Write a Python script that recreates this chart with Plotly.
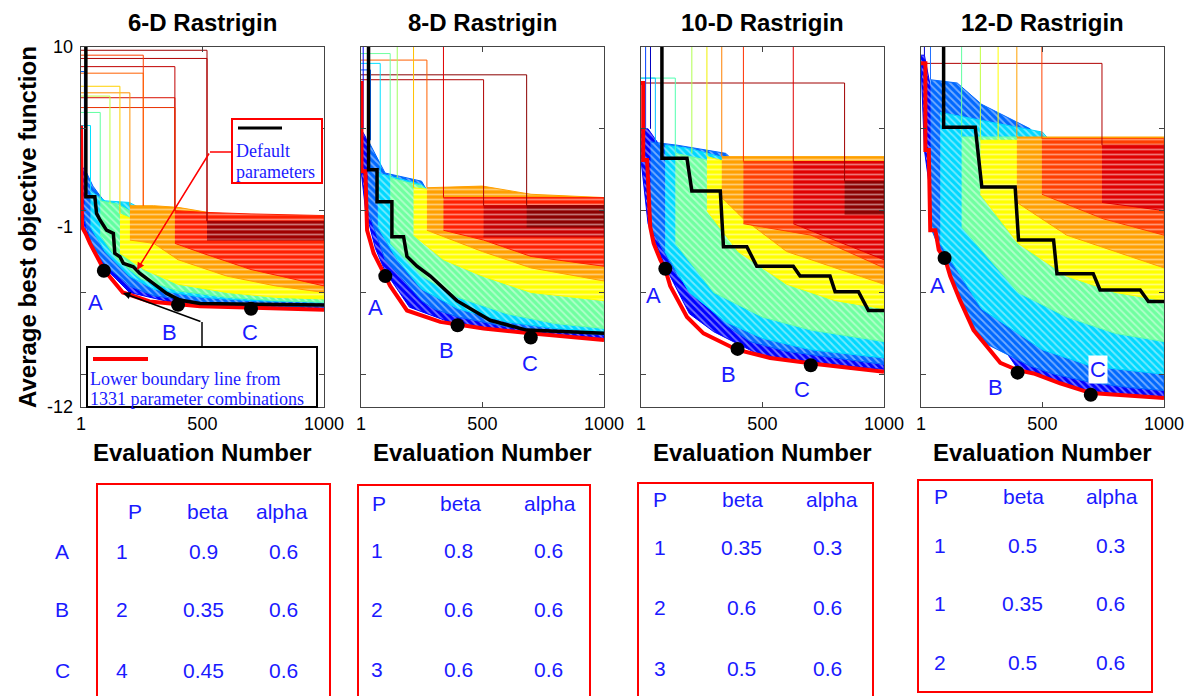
import plotly.graph_objects as go

# ---------------- data ----------------
TITLES = ["6-D Rastrigin", "8-D Rastrigin", "10-D Rastrigin", "12-D Rastrigin"]
X_TICKS = [1, 500, 1000]
Y_TICKS = [-10, -5, 0, 5, 10]
Y_LABELS = ["10", "-1", "-12"]
Y_LABEL_VALUES = [10, -1, -12]

# lower boundary (red) lines
RED6_X = [1, 1, 5, 20, 38, 95, 173, 283, 490, 1000]
RED6_Y = [5.2, 0.6, -1.0, -1.4, -2.0, -3.6, -5.0, -5.55, -5.85, -6.05]
RED8_X = [1, 3, 3, 19, 26, 53, 94, 121, 190, 327, 505, 696, 1000]
RED8_Y = [7.8, 7.8, 2.4, 2.4, -1.2, -2.6, -3.8, -4.6, -6.1, -6.8, -7.2, -7.5, -7.9]
RED10_X = [1, 10, 10, 26, 39, 53, 80, 101, 121, 190, 258, 395, 532, 737, 1000]
RED10_Y = [7.8, 7.8, 3.1, 3.1, -1.0, -2.0, -3.0, -3.6, -4.6, -6.5, -7.5, -8.5, -9.0, -9.4, -9.85]
RED12_X = [1, 19, 19, 33, 39, 60, 74, 101, 121, 162, 217, 327, 398, 464, 573, 699, 1000]
RED12_Y = [9.0, 9.0, 3.7, 3.7, -1.2, -1.2, -2.4, -3.0, -4.0, -5.5, -7.3, -9.3, -9.75, -9.95, -10.55, -11.15, -11.45]

# default parameters (black) lines
BLACK6_X = [21, 21, 58, 65, 79, 106, 134, 140, 161, 175, 216, 243, 298, 353, 407, 490, 1000]
BLACK6_Y = [10.5, 0.85, 0.85, -0.17, -0.57, -1.19, -1.39, -2.61, -2.82, -3.22, -3.43, -3.84, -4.45, -5.06, -5.46, -5.67, -5.77]
BLACK8_X = [32, 32, 67, 67, 128, 128, 176, 190, 231, 286, 395, 532, 682, 1000]
BLACK8_Y = [10.5, 2.5, 2.5, 0.55, 0.55, -1.6, -1.6, -2.8, -3.4, -4.0, -5.5, -6.7, -7.3, -7.5]
BLACK10_X = [87, 87, 190, 210, 327, 340, 436, 477, 627, 655, 778, 799, 895, 936, 1000]
BLACK10_Y = [10.5, 3.2, 3.2, 1.2, 1.2, -2.2, -2.2, -3.4, -3.4, -4.0, -4.0, -4.95, -4.95, -6.1, -6.1]
BLACK12_X = [94, 94, 224, 251, 388, 402, 546, 560, 709, 737, 902, 936, 1000]
BLACK12_Y = [10.5, 5.1, 5.1, 1.45, 1.45, -1.8, -1.8, -3.85, -3.85, -4.85, -4.85, -5.55, -5.55]

# points A, B, C
PTS6_X, PTS6_Y = [95, 400, 700], [-3.67, -5.75, -6.0]
PTS8_X, PTS8_Y = [101, 398, 699], [-4.0, -7.0, -7.75]
PTS10_X, PTS10_Y = [101, 398, 699], [-3.55, -8.45, -9.45]
PTS12_X, PTS12_Y = [98, 398, 699], [-2.9, -9.9, -11.25]

# colored envelopes of the 1331 parameter-combination curves: (colour, x, upper, lower)
BANDS6 = [
    ("#0000ff", [1, 20, 50, 100, 200, 400, 700, 1000], [2.7, 2.5, 0.8, -1.2, -3.3, -4.9, -5.4, -5.5], [0.5, -1.3, -2.5, -3.5, -5.0, -5.7, -5.95, -6.0]),
    ("#0068ff", [15, 50, 100, 200, 300, 500, 700, 1000], [2.6, 1.5, 0.5, 0.3, -1.0, -3.0, -3.7, -4.0], [-0.5, -2.3, -3.3, -4.6, -5.2, -5.6, -5.8, -5.9]),
    ("#00d8ff", [40, 100, 200, 300, 500, 700, 1000], [1.2, 0.6, 0.5, -0.3, -2.2, -3.2, -3.6], [-1.0, -2.5, -4.0, -4.8, -5.3, -5.5, -5.6]),
    ("#60ffa0", [80, 150, 250, 400, 600, 800, 1000], [0.6, 0.4, -0.4, -1.5, -2.8, -3.3, -3.5], [-1.5, -3.0, -4.2, -4.9, -5.3, -5.5, -5.6]),
    ("#ffff00", [161, 260, 400, 600, 800, 1000], [-0.2, -0.8, -1.5, -2.5, -3.2, -3.5], [-2.6, -3.6, -4.5, -5.0, -5.3, -5.4]),
    ("#ffa000", [202, 300, 400, 600, 800, 1000], [0.3, 0.3, 0.2, -0.3, -0.5, -0.5], [-1.8, -2.0, -3.0, -4.0, -4.6, -5.0]),
    ("#ff2000", [387, 500, 700, 1000], [0.0, -0.1, -0.2, -0.3], [-2.0, -2.6, -3.6, -4.6]),
    ("#a00000", [519, 1000], [-0.65, -0.65], [-1.8, -1.8]),
]
BANDS8 = [
    ("#0000ff", [1, 20, 60, 100, 200, 400, 700, 1000], [5.0, 4.5, 2.5, -0.5, -3.0, -5.0, -6.5, -7.0], [2.5, 0.0, -2.3, -3.7, -5.9, -7.0, -7.45, -7.8]),
    ("#0068ff", [30, 100, 250, 300, 400, 600, 800, 1000], [4.3, 2.3, 1.8, 0.5, -1.0, -3.0, -4.0, -4.5], [0.0, -3.0, -5.5, -6.0, -6.5, -7.1, -7.4, -7.6]),
    ("#00d8ff", [70, 150, 250, 400, 600, 800, 1000], [2.3, 2.0, 1.6, -0.5, -2.5, -3.5, -4.0], [-1.0, -3.0, -4.8, -6.0, -6.8, -7.2, -7.4]),
    ("#70ffa0", [121, 250, 400, 600, 800, 1000], [2.0, 1.5, 0.0, -1.8, -3.0, -3.5], [-2.0, -4.0, -5.3, -6.3, -6.9, -7.2]),
    ("#ffff00", [217, 340, 500, 700, 1000], [1.4, 1.2, 0.0, -1.5, -2.5], [-1.5, -3.0, -4.0, -5.0, -5.5]),
    ("#ffa000", [272, 500, 700, 1000], [1.4, 1.5, 1.0, 0.8], [-1.2, -2.5, -3.5, -4.3]),
    ("#ff2000", [340, 505, 700, 1000], [0.8, 0.8, 0.8, 0.8], [-1.2, -1.8, -2.8, -3.4]),
    ("#c80000", [505, 1000], [0.3, 0.3], [-1.6, -1.6]),
    ("#8b0000", [682, 1000], [0.3, 0.3], [-1.0, -1.0]),
]
BANDS10 = [
    ("#0000ff", [1, 30, 100, 200, 300, 500, 700, 1000], [5.0, 5.0, 3.5, 1.0, -2.0, -4.0, -5.5, -6.3], [3.1, -0.8, -3.4, -6.3, -7.4, -8.9, -9.3, -9.7]),
    ("#0068ff", [40, 150, 350, 450, 600, 800, 1000], [4.2, 4.0, 3.5, 2.0, 0.0, -2.0, -3.0], [-1.0, -4.0, -7.0, -8.0, -8.6, -9.0, -9.4]),
    ("#00d8ff", [100, 200, 350, 500, 700, 1000], [4.0, 3.8, 3.2, 1.5, -1.0, -2.5], [-2.5, -5.0, -6.8, -7.8, -8.5, -9.0]),
    ("#70ffa0", [142, 300, 500, 700, 1000], [3.5, 3.0, 1.0, -1.0, -2.5], [-2.0, -5.0, -6.5, -7.3, -8.0]),
    ("#ffff00", [272, 400, 600, 800, 1000], [3.3, 2.8, 1.0, -1.0, -2.0], [0.0, -2.5, -4.5, -5.5, -6.0]),
    ("#ffa000", [333, 422, 600, 1000], [3.3, 3.3, 3.3, 3.3], [0.8, -0.5, -2.5, -4.5]),
    ("#ff4000", [422, 700, 1000], [3.0, 3.0, 3.0], [-0.8, -1.5, -3.5]),
    ("#e00000", [627, 1000], [3.0, 3.0], [-0.8, -3.0]),
    ("#8b0000", [838, 1000], [1.8, 1.8], [-0.2, -0.2]),
]
BANDS12 = [
    ("#0000ff", [1, 15, 60, 100, 200, 400, 700, 1000], [9.5, 9.5, 6.0, 3.0, -1.0, -4.5, -6.5, -7.5], [9.0, 3.7, -1.2, -3.0, -5.4, -9.7, -11.1, -11.4]),
    ("#0068ff", [40, 150, 250, 450, 550, 700, 850, 1000], [8.0, 7.8, 6.5, 5.0, 3.0, 0.0, -2.0, -3.0], [-1.0, -5.0, -8.0, -9.5, -10.0, -10.5, -10.8, -11.0]),
    ("#00d8ff", [80, 250, 500, 700, 1000], [6.0, 5.5, 4.8, 1.5, -1.0], [-2.0, -6.0, -8.5, -9.5, -10.0]),
    ("#70ffa0", [168, 400, 600, 800, 1000], [4.5, 4.5, 2.0, 0.0, -1.5], [-1.0, -5.0, -6.5, -7.5, -8.0]),
    ("#ffff00", [245, 400, 600, 800, 1000], [4.3, 4.3, 3.5, 1.5, 0.5], [1.0, -2.0, -4.0, -5.0, -5.5]),
    ("#ffa000", [395, 600, 1000], [4.5, 4.5, 4.5], [0.5, -1.5, -3.5]),
    ("#ff4000", [498, 750, 1000], [4.4, 4.4, 4.4], [1.0, -0.5, -1.5]),
    ("#e00000", [745, 1000], [4.0, 4.0], [0.5, 0.0]),
]

# first-improvement "entry" lines: (colour, starting value, first evaluation, value reached)
ENTRIES6 = [("#a00000", 9.8, 519, -0.65), ("#b00000", 9.3, 519, -0.65), ("#c00000", 8.8, 387, 0.0),
            ("#d81000", 6.9, 387, 0.0), ("#e83000", 6.3, 387, 0.0), ("#ff4000", 9.5, 257, 0.3),
            ("#ff6000", 8.4, 257, 0.3), ("#ff9000", 7.2, 202, 0.3), ("#ffd000", 7.6, 161, -0.2),
            ("#c0ff40", 7.0, 120, 0.4), ("#60ffa0", 6.0, 80, 0.6), ("#00e0ff", 5.2, 40, 1.2),
            ("#0068ff", 8.5, 15, 2.6)]
ENTRIES8 = [("#8b0000", 8.3, 682, 0.3), ("#b00000", 8.0, 505, 0.3), ("#e00000", 10.5, 340, 0.8),
            ("#ff6000", 9.2, 272, 1.4), ("#ffc000", 10.5, 217, 1.4), ("#a0ff60", 10.5, 150, 2.0),
            ("#70ffa0", 9.6, 121, 2.0), ("#00e0ff", 9.0, 80, 2.3), ("#0068ff", 8.6, 40, 4.3),
            ("#0000ff", 10.5, 10, 5.0)]
ENTRIES10 = [("#a00000", 7.8, 838, 1.8), ("#e00000", 10.5, 627, 3.0), ("#ff3000", 10.5, 422, 3.0),
             ("#ff8000", 10.5, 333, 3.3), ("#f0f000", 10.5, 272, 3.3), ("#b0ff50", 10.5, 210, 3.5),
             ("#50ffb0", 8.1, 142, 3.5), ("#00c0ff", 8.1, 60, 4.2), ("#0040ff", 10.5, 20, 5.0),
             ("#0000c0", 10.5, 40, 5.0)]
ENTRIES12 = [("#b00000", 9.0, 745, 4.0), ("#ff4000", 10.5, 498, 4.4), ("#ffa000", 10.5, 395, 4.5),
             ("#ffff00", 10.5, 318, 4.3), ("#c0ff40", 10.5, 245, 4.3), ("#60ffa0", 10.5, 168, 4.5),
             ("#2070ff", 10.5, 40, 8.0), ("#0000d0", 10.5, 15, 9.5)]

# parameter tables
ROW_NAMES = ["A", "B", "C"]
TABLE_HEAD = ["P", "beta", "alpha"]
TABLE6 = [["1", "0.9", "0.6"], ["2", "0.35", "0.6"], ["4", "0.45", "0.6"]]
TABLE8 = [["1", "0.8", "0.6"], ["2", "0.6", "0.6"], ["3", "0.6", "0.6"]]
TABLE10 = [["1", "0.35", "0.3"], ["2", "0.6", "0.6"], ["3", "0.5", "0.6"]]
TABLE12 = [["1", "0.5", "0.3"], ["1", "0.35", "0.6"], ["2", "0.5", "0.6"]]

# ---------------- layout helpers ----------------
W, H = 1194, 696
def px(x): return x / W
def py(y): return 1 - y / H

PLOT_L = [81, 361, 641, 921]
PLOT_R = [324, 604, 884, 1164]
PLOT_T, PLOT_B = 47, 407
BLUE = "#1a1aff"
SANS = "Liberation Sans, Arial, sans-serif"
SERIF = "Liberation Serif, Times New Roman, serif"
WARM = {"#ffff00", "#ffa000", "#ff2000", "#ff4000", "#a00000", "#c80000", "#8b0000", "#e00000"}

REDS = [(RED6_X, RED6_Y), (RED8_X, RED8_Y), (RED10_X, RED10_Y), (RED12_X, RED12_Y)]
BLACKS = [(BLACK6_X, BLACK6_Y), (BLACK8_X, BLACK8_Y), (BLACK10_X, BLACK10_Y), (BLACK12_X, BLACK12_Y)]
PTS = [(PTS6_X, PTS6_Y), (PTS8_X, PTS8_Y), (PTS10_X, PTS10_Y), (PTS12_X, PTS12_Y)]
BANDS = [BANDS6, BANDS8, BANDS10, BANDS12]
ENTRIES = [ENTRIES6, ENTRIES8, ENTRIES10, ENTRIES12]
TABLES = [TABLE6, TABLE8, TABLE10, TABLE12]

fig = go.Figure()

for i in range(4):
    xr = "x" if i == 0 else f"x{i+1}"
    yr = "y" if i == 0 else f"y{i+1}"
    for col, xs, up, lo in BANDS[i]:
        shape = "-" if col in WARM else "\\"
        fig.add_trace(go.Scatter(x=xs + xs[::-1], y=up + lo[::-1], fill="toself", mode="lines",
                                 fillcolor=col,
                                 fillpattern=dict(shape=shape, fgcolor="white", fgopacity=0.45,
                                                  size=5, solidity=0.35, fillmode="overlay"),
                                 line=dict(color=col, width=1),
                                 xaxis=xr, yaxis=yr, hoverinfo="skip"))
    for col, vtop, xs, vend in ENTRIES[i]:
        fig.add_trace(go.Scatter(x=[1, xs, xs], y=[vtop, vtop, vend], mode="lines",
                                 line=dict(color=col, width=1), xaxis=xr, yaxis=yr, hoverinfo="skip"))
    rx, ry = REDS[i]
    fig.add_trace(go.Scatter(x=rx, y=ry, mode="lines", line=dict(color="#ff0000", width=4),
                             xaxis=xr, yaxis=yr, hoverinfo="skip"))
    bx, by = BLACKS[i]
    fig.add_trace(go.Scatter(x=bx, y=by, mode="lines", line=dict(color="#000000", width=3.5),
                             xaxis=xr, yaxis=yr, hoverinfo="skip"))
    qx, qy = PTS[i]
    fig.add_trace(go.Scatter(x=qx, y=qy, mode="markers", marker=dict(color="black", size=14),
                             xaxis=xr, yaxis=yr, hoverinfo="skip"))

layout = dict(width=W, height=H, autosize=False, margin=dict(l=0, r=0, t=0, b=0, pad=0), showlegend=False,
              paper_bgcolor="white", plot_bgcolor="white", template="none")
for i in range(4):
    sx = "xaxis" if i == 0 else f"xaxis{i+1}"
    sy = "yaxis" if i == 0 else f"yaxis{i+1}"
    layout[sx] = dict(domain=[px(PLOT_L[i]), px(PLOT_R[i])], range=[1, 1000], tickvals=X_TICKS,
                      ticktext=[str(t) for t in X_TICKS], ticks="inside", ticklen=5, mirror="ticks",
                      showline=True, linecolor="#444", linewidth=1, showgrid=False, zeroline=False,
                      automargin=False, anchor="y" if i == 0 else f"y{i+1}",
                      tickfont=dict(family=SANS, size=18, color="black"))
    layout[sy] = dict(domain=[py(PLOT_B), py(PLOT_T)], range=[-12, 10], tickvals=Y_TICKS,
                      ticks="inside", ticklen=5, mirror="ticks", showticklabels=False,
                      showline=True, linecolor="#444", linewidth=1, showgrid=False, zeroline=False,
                      automargin=False, anchor="x" if i == 0 else f"x{i+1}")
fig.update_layout(**layout)

ann = []
shapes = []

def text_at(x, y, text, font, xanchor="center", **kw):
    d = dict(x=px(x), y=py(y), xref="paper", yref="paper", text=text, showarrow=False,
             xanchor=xanchor, yanchor="middle", font=font)
    d.update(kw)
    ann.append(d)

for i in range(4):
    cx = (PLOT_L[i] + PLOT_R[i]) / 2
    text_at(cx, 22, f"<b>{TITLES[i]}</b>", dict(family=SANS, size=24, color="black"))
    text_at(cx, 452, "<b>Evaluation Number</b>", dict(family=SANS, size=24, color="black"))

# y tick labels (panel 1)
for lab, val in zip(Y_LABELS, Y_LABEL_VALUES):
    ann.append(dict(x=px(PLOT_L[0] - 6), xref="paper", xanchor="right", y=val, yref="y", yanchor="middle",
                    text=lab, showarrow=False, font=dict(family=SANS, size=18, color="black")))
text_at(28, 227, "<b>Average best objective function</b>", dict(family=SANS, size=24, color="black"),
        textangle=-90)

# A/B/C labels
LAB_POS = [[(95, 302), (170, 332), (250, 332)],
           [(375, 307), (446, 350), (530, 363)],
           [(653, 295), (728, 374), (802, 389)],
           [(937, 285), (995, 387), (1098, 369)]]
for i in range(4):
    for j, (lx, ly) in enumerate(LAB_POS[i]):
        extra = {"bgcolor": "white"} if (i == 3 and j == 2) else {}
        text_at(lx, ly, ROW_NAMES[j], dict(family=SANS, size=22, color=BLUE), **extra)

# panel-1 callouts
shapes.append(dict(type="rect", xref="paper", yref="paper", x0=px(232), x1=px(322), y0=py(119), y1=py(183),
                   line=dict(color="red", width=2), fillcolor="white"))
shapes.append(dict(type="line", xref="paper", yref="paper", x0=px(238), x1=px(282), y0=py(128), y1=py(128),
                   line=dict(color="black", width=3)))
text_at(234, 151, "Default", dict(family=SERIF, size=18, color=BLUE), xanchor="left")
text_at(234, 172, "parameters", dict(family=SERIF, size=18, color=BLUE), xanchor="left")
shapes.append(dict(type="line", xref="paper", yref="paper", x0=px(210), x1=px(232), y0=py(152), y1=py(152),
                   line=dict(color="red", width=1.5)))
ann.append(dict(x=px(137), y=py(270), ax=73, ay=-118, text="", showarrow=True, arrowhead=2, arrowsize=1,
                arrowwidth=1.5, arrowcolor="red", xref="paper", yref="paper"))

shapes.append(dict(type="rect", xref="paper", yref="paper", x0=px(87), x1=px(317), y0=py(407), y1=py(347),
                   line=dict(color="black", width=2), fillcolor="white"))
shapes.append(dict(type="line", xref="paper", yref="paper", x0=px(93), x1=px(148), y0=py(359), y1=py(359),
                   line=dict(color="red", width=4)))
text_at(88, 379, "Lower boundary line from", dict(family=SERIF, size=18, color=BLUE), xanchor="left")
text_at(88, 399, "1331 parameter combinations", dict(family=SERIF, size=18, color=BLUE), xanchor="left")
shapes.append(dict(type="line", xref="paper", yref="paper", x0=px(202), x1=px(202), y0=py(347), y1=py(322),
                   line=dict(color="black", width=1.5)))
ann.append(dict(x=px(123), y=py(293), ax=79, ay=29, text="", showarrow=True, arrowhead=2, arrowsize=1,
                arrowwidth=1.5, arrowcolor="black", xref="paper", yref="paper"))

# tables
BOXES = [(97, 484, 330, 697), (358, 485, 590, 697), (638, 483, 873, 697), (918, 480, 1152, 692)]
HEAD_X = [[135, 207, 282], [379, 460, 550], [660, 742, 832], [941, 1023, 1112]]
HEAD_Y = [511, 503, 500, 496]
VAL_X = [[122, 203, 283], [377, 458, 548], [660, 741, 827], [940, 1022, 1110]]
ROW_Y = [[551, 609, 670], [550, 609, 669], [547, 607, 668], [545, 603, 662]]
TFONT = dict(family=SANS, size=21, color=BLUE)
for i in range(4):
    x0, y0, x1, y1 = BOXES[i]
    shapes.append(dict(type="rect", xref="paper", yref="paper", x0=px(x0), x1=px(x1), y0=py(y1), y1=py(y0),
                       line=dict(color="red", width=2)))
    for k, h in enumerate(TABLE_HEAD):
        text_at(HEAD_X[i][k], HEAD_Y[i], h, TFONT)
    for r in range(3):
        for k in range(3):
            text_at(VAL_X[i][k], ROW_Y[i][r], TABLES[i][r][k], TFONT)
for r in range(3):
    text_at(62, ROW_Y[0][r], ROW_NAMES[r], TFONT)

fig.update_layout(annotations=ann, shapes=shapes)
POST = ("document.documentElement.style.margin='0';document.documentElement.style.overflow='hidden';"
        "document.body.style.margin='0';document.body.style.padding='0';document.body.style.overflow='hidden';")
fig.write_html("out.html", config={"responsive": False}, post_script=POST)
